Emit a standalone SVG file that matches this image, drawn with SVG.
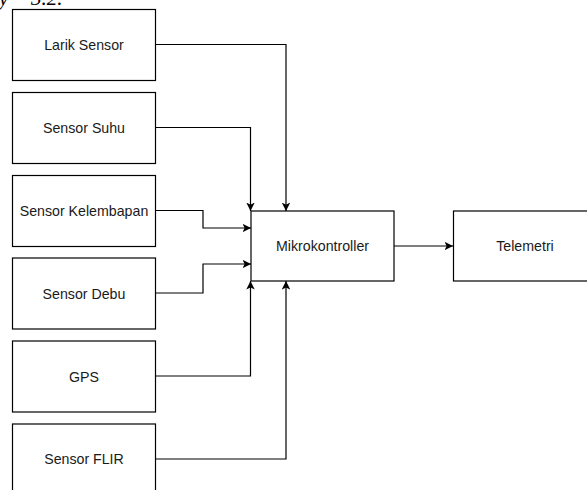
<svg xmlns="http://www.w3.org/2000/svg" width="587" height="490" viewBox="0 0 587 490">
<style>
.box{fill:#fff;stroke:#000;stroke-width:1.2}
.lbl{font-family:"Liberation Sans",Arial,sans-serif;font-size:14.2px;fill:#1a1a1a;text-anchor:middle}
.conn{fill:none;stroke:#000;stroke-width:1.2}
.cap{font-family:"Liberation Serif","Times New Roman",serif;font-style:italic;font-size:21px;fill:#000}
</style>
<defs>
<marker id="arr" viewBox="0 0 10 10" refX="10" refY="5" markerWidth="8.5" markerHeight="8.5" markerUnits="userSpaceOnUse" orient="auto">
<path d="M0,0 L10,5 L0,10 L2.5,5 Z" fill="#000"/>
</marker>
</defs>
<rect width="587" height="490" fill="#fff"/>
<text class="cap" x="-1" y="5">y</text>
<text class="cap" x="31" y="5">3.2.</text>
<g id="connectors">
<path class="conn" d="M155.5,44.5 H286 V211" marker-end="url(#arr)"/>
<path class="conn" d="M155.5,127.5 H250.5 V211" marker-end="url(#arr)"/>
<path class="conn" d="M155.5,210.5 H203 V228 H251" marker-end="url(#arr)"/>
<path class="conn" d="M155.5,293 H203 V264 H251" marker-end="url(#arr)"/>
<path class="conn" d="M155.5,376 H250.5 V281" marker-end="url(#arr)"/>
<path class="conn" d="M155.5,459 H286 V281" marker-end="url(#arr)"/>
<path class="conn" d="M394,246 H453" marker-end="url(#arr)"/>
</g>
<g id="larik-sensor"><rect class="box" x="12.5" y="9.5" width="143" height="71"/><text class="lbl" x="84" y="50">Larik Sensor</text></g>
<g id="sensor-suhu"><rect class="box" x="12.5" y="92.5" width="143" height="71"/><text class="lbl" x="84" y="133">Sensor Suhu</text></g>
<g id="sensor-kelembapan"><rect class="box" x="12.5" y="175.5" width="143" height="71"/><text class="lbl" x="84" y="216">Sensor Kelembapan</text></g>
<g id="sensor-debu"><rect class="box" x="12.5" y="258" width="143" height="71"/><text class="lbl" x="84" y="298.5">Sensor Debu</text></g>
<g id="gps"><rect class="box" x="12.5" y="341" width="143" height="71"/><text class="lbl" x="84" y="381.5">GPS</text></g>
<g id="sensor-flir"><rect class="box" x="12.5" y="424" width="143" height="71"/><text class="lbl" x="84" y="464">Sensor FLIR</text></g>
<g id="mikrokontroller"><rect class="box" x="251" y="211" width="143" height="70"/><text class="lbl" x="322.5" y="251">Mikrokontroller</text></g>
<g id="telemetri"><rect class="box" x="453.5" y="211" width="143" height="70"/><text class="lbl" x="525" y="251">Telemetri</text></g>
</svg>
